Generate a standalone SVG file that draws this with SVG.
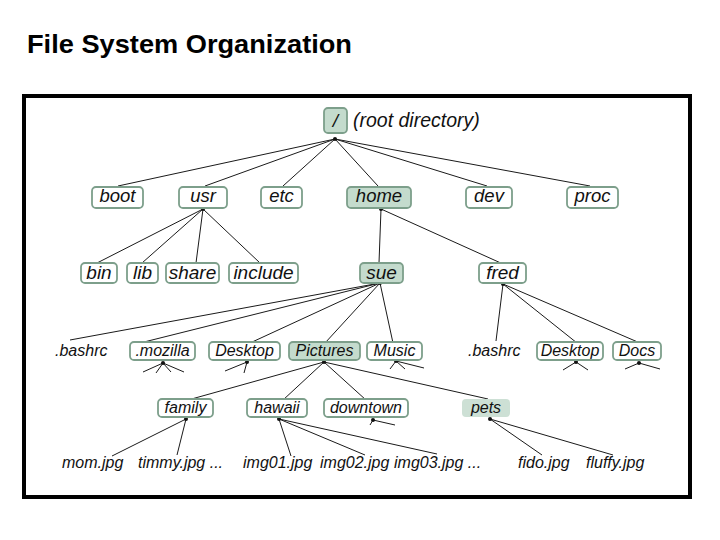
<svg xmlns="http://www.w3.org/2000/svg" width="720" height="540" viewBox="0 0 720 540">
<style>
.t{font-family:"Liberation Sans",Arial,sans-serif;font-style:italic;fill:#111}
.b1{font-size:18.5px}
.b2{font-size:19px}
.b3{font-size:16px}
.box{fill:#fff;stroke:#7d9f8b;stroke-width:1.8}
.fill{fill:#c4dbcd;stroke:#7d9f8b;stroke-width:1.8}
.pets{fill:#cde0d5;stroke:none}
.c path{stroke:#1a1a1a;stroke-width:1;fill:none}
.c circle{fill:#111}
</style>
<rect width="720" height="540" fill="#fff"/>
<text x="27" y="53" font-family="'Liberation Sans',Arial,sans-serif" font-weight="bold" font-size="26" textLength="325" lengthAdjust="spacingAndGlyphs" fill="#000">File System Organization</text>
<rect x="24" y="96" width="666" height="401" fill="#fff" stroke="#000" stroke-width="4"/>

<g id="connectors" class="c">
<path d="M335 139L118 186M335 139L205 186M335 139L283 186M335 139L378 186M335 139L487 186M335 139L590 186"/>
<path d="M203 209L97 263M203 209L142 263M203 209L196 263M203 209L260 263"/>
<path d="M381 209L379 263M381 209L503 264"/>
<path d="M380 283L70 340M380 283L140 343M380 283L250 343M380 283L325 343M380 283L393 343"/>
<path d="M503 284L496 341M503 284L577 343M503 284L640 343"/>
<path d="M163 363L143 372M163 363L156 373M163 363L171 372M163 363L184 372"/>
<path d="M247 362L225 371M247 362L244 373"/>
<path d="M324 362L188 400M324 362L283 400M324 362L366 400M324 362L488 399"/>
<path d="M396 361L390 369M396 361L405 369M396 361L424 368"/>
<path d="M576 362L563 370M576 362L588 370"/>
<path d="M639 363L625 369M639 363L660 369"/>
<path d="M186 419L112 456M186 419L177 455"/>
<path d="M279 419L291 456M279 419L365 455M279 419L437 454"/>
<path d="M373 420L370 425M373 420L395 425"/>
<path d="M490 419L542 455M490 419L613 455"/>
<circle cx="335" cy="139" r="2"/><circle cx="203" cy="209" r="2"/><circle cx="381" cy="209" r="2"/>
<circle cx="380" cy="283" r="2"/><circle cx="503" cy="284" r="2"/><circle cx="163" cy="363" r="2"/>
<circle cx="247" cy="362" r="2"/><circle cx="324" cy="362" r="2"/><circle cx="396" cy="361" r="2"/>
<circle cx="576" cy="362" r="2"/><circle cx="639" cy="363" r="2"/><circle cx="186" cy="419" r="2"/>
<circle cx="279" cy="419" r="2"/><circle cx="373" cy="420" r="2"/><circle cx="490" cy="419" r="2"/>
</g>

<g id="root"><rect class="fill" x="324" y="108" width="23" height="25" rx="4"/><text class="t b2" x="335.5" y="127" text-anchor="middle">/</text><text class="t" font-size="19.5" x="353" y="127">(root directory)</text></g>

<g id="boot"><rect class="box" x="92" y="187" width="51" height="21" rx="4"/><text class="t b1" x="117.5" y="202" text-anchor="middle">boot</text></g>
<g id="usr"><rect class="box" x="179" y="187" width="48" height="21" rx="4"/><text class="t b1" x="203" y="202" text-anchor="middle">usr</text></g>
<g id="etc"><rect class="box" x="261" y="187" width="41" height="21" rx="4"/><text class="t b1" x="281.5" y="202" text-anchor="middle">etc</text></g>
<g id="home"><rect class="fill" x="347" y="187" width="64" height="21" rx="4"/><text class="t b1" x="379" y="202" text-anchor="middle">home</text></g>
<g id="dev"><rect class="box" x="466" y="187" width="46" height="21" rx="4"/><text class="t b1" x="489" y="202" text-anchor="middle">dev</text></g>
<g id="proc"><rect class="box" x="567" y="187" width="51" height="21" rx="4"/><text class="t b1" x="592.5" y="202" text-anchor="middle">proc</text></g>

<g id="bin"><rect class="box" x="81" y="263" width="36" height="20" rx="4"/><text class="t b2" x="99" y="279" text-anchor="middle">bin</text></g>
<g id="lib"><rect class="box" x="127" y="263" width="31" height="20" rx="4"/><text class="t b2" x="142.5" y="279" text-anchor="middle">lib</text></g>
<g id="share"><rect class="box" x="166" y="263" width="53" height="20" rx="4"/><text class="t b2" x="192.5" y="279" text-anchor="middle">share</text></g>
<g id="include"><rect class="box" x="229" y="263" width="69" height="20" rx="4"/><text class="t b2" x="263.5" y="279" text-anchor="middle">include</text></g>
<g id="sue"><rect class="fill" x="360" y="263" width="43" height="20" rx="4"/><text class="t b2" x="381.5" y="279" text-anchor="middle">sue</text></g>
<g id="fred"><rect class="box" x="479" y="263" width="47" height="20" rx="4"/><text class="t b2" x="502.5" y="279" text-anchor="middle">fred</text></g>

<g id="bashrc1"><text class="t b3" x="55" y="356">.bashrc</text></g>
<g id="mozilla"><rect class="box" x="130" y="342" width="65" height="18" rx="4"/><text class="t b3" x="162.5" y="356" text-anchor="middle">.mozilla</text></g>
<g id="desktop1"><rect class="box" x="209" y="342" width="71" height="18" rx="4"/><text class="t b3" x="244.5" y="356" text-anchor="middle">Desktop</text></g>
<g id="pictures"><rect class="fill" x="289" y="342" width="71" height="18" rx="4"/><text class="t b3" x="324.5" y="356" text-anchor="middle">Pictures</text></g>
<g id="music"><rect class="box" x="367" y="342" width="55" height="18" rx="4"/><text class="t b3" x="394.5" y="356" text-anchor="middle">Music</text></g>
<g id="bashrc2"><text class="t b3" x="468" y="356">.bashrc</text></g>
<g id="desktop2"><rect class="box" x="537" y="342" width="66" height="18" rx="4"/><text class="t b3" x="570" y="356" text-anchor="middle">Desktop</text></g>
<g id="docs"><rect class="box" x="613" y="342" width="48" height="18" rx="4"/><text class="t b3" x="637" y="356" text-anchor="middle">Docs</text></g>

<g id="family"><rect class="box" x="158" y="399" width="55" height="18" rx="4"/><text class="t b3" x="185.5" y="413" text-anchor="middle">family</text></g>
<g id="hawaii"><rect class="box" x="247" y="399" width="60" height="18" rx="4"/><text class="t b3" x="277" y="413" text-anchor="middle">hawaii</text></g>
<g id="downtown"><rect class="box" x="324" y="399" width="84" height="18" rx="4"/><text class="t b3" x="366" y="413" text-anchor="middle">downtown</text></g>
<g id="pets"><rect class="pets" x="462" y="399" width="48" height="18" rx="4"/><text class="t b3" x="486" y="413" text-anchor="middle">pets</text></g>

<g id="files">
<text class="t b3" x="62" y="468">mom.jpg</text>
<text class="t b3" x="138" y="468">timmy.jpg ...</text>
<text class="t b3" x="243" y="468">img01.jpg</text>
<text class="t b3" x="320" y="468">img02.jpg</text>
<text class="t b3" x="394" y="468">img03.jpg ...</text>
<text class="t b3" x="518" y="468">fido.jpg</text>
<text class="t b3" x="586" y="468">fluffy.jpg</text>
</g>
</svg>
